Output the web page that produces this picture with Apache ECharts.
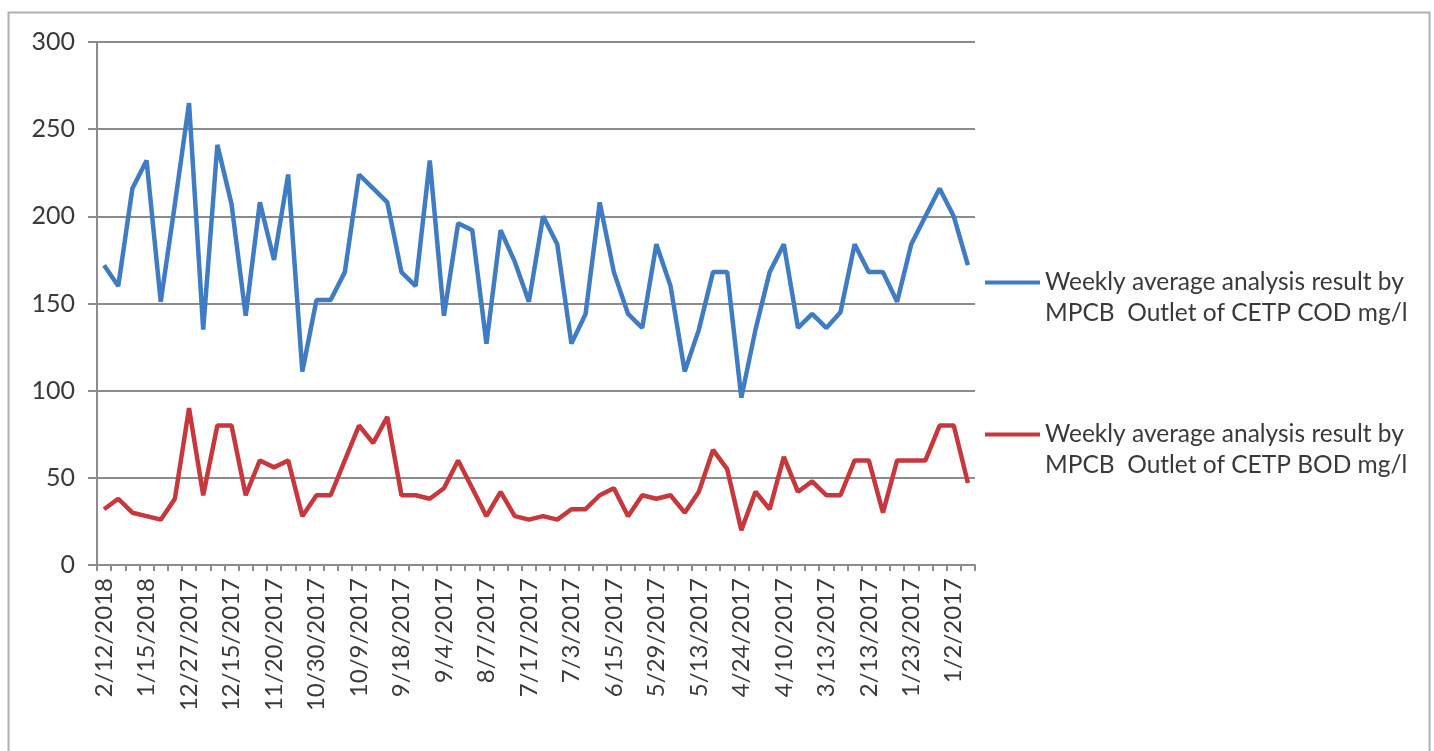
<!DOCTYPE html>
<html>
<head>
<meta charset="utf-8">
<script src="https://cdn.jsdelivr.net/npm/echarts@6/dist/echarts.min.js"></script>
<style>
html,body{margin:0;padding:0;background:#fff;}
#chart{width:1434px;height:751px;}
</style>
</head>
<body>
<div id="chart"></div>
<script>
// Tick labels shown on the x axis (every third category)
const tickLabels = ['2/12/2018','1/15/2018','12/27/2017','12/15/2017','11/20/2017','10/30/2017','10/9/2017','9/18/2017','9/4/2017','8/7/2017','7/17/2017','7/3/2017','6/15/2017','5/29/2017','5/13/2017','4/24/2017','4/10/2017','3/13/2017','2/13/2017','1/23/2017','1/2/2017'];

// Weekly COD values (mg/l)
const codValues = [172,160,216,232,151,207,265,135,241,207,143,208,175,224,111,152,152,168,224,216,208,168,160,232,143,196,192,127,192,174,151,200,184,127,144,208,168,144,136,184,160,111,135,168,168,96,135,168,184,136,144,136,145,184,168,168,151,184,200,216,200,172];

// Weekly BOD values (mg/l)
const bodValues = [32,38,30,28,26,38,90,40,80,80,40,60,56,60,28,40,40,60,80,70,85,40,40,38,44,60,44,28,42,28,26,28,26,32,32,40,44,28,40,38,40,30,42,66,55,20,42,32,62,42,48,40,40,60,60,30,60,60,60,80,80,47];

const seriesNames = [
  'Weekly average analysis result by\nMPCB  Outlet of CETP COD mg/l',
  'Weekly average analysis result by\nMPCB  Outlet of CETP BOD mg/l'
];

// category list: labelled every third week, others unlabeled
const categories = codValues.map((v, i) => (i % 3 === 0 ? tickLabels[i / 3] : ''));

const FONT = 'Lato';
const TXT = '#3a3a3a';
const chart = echarts.init(document.getElementById('chart'));
const legendText = { fontFamily: FONT, fontSize: 24.5, color: TXT, lineHeight: 31 };
// blank first line so that the icon sits beside the first text line
const legendFmt = name => ' \n' + name;
chart.setOption({
  animation: false,
  backgroundColor: '#fff',
  graphic: [{
    type: 'rect', left: 6, top: 10, silent: true,
    shape: { width: 1421, height: 760 },
    style: { fill: 'none', stroke: '#b0b0b0', lineWidth: 2 }
  }],
  grid: { left: 97, right: 459, top: 42, bottom: 186, containLabel: false },
  legend: [{
    data: [seriesNames[0]], orient: 'vertical', left: 985, top: 236, padding: 0,
    icon: 'rect', itemWidth: 55, itemHeight: 4, itemGap: 0, formatter: legendFmt,
    textStyle: legendText
  }, {
    data: [seriesNames[1]], orient: 'vertical', left: 985, top: 388, padding: 0,
    icon: 'rect', itemWidth: 55, itemHeight: 4, itemGap: 0, formatter: legendFmt,
    textStyle: legendText
  }],
  xAxis: {
    type: 'category', data: categories, boundaryGap: true,
    axisLine: { lineStyle: { color: '#8c8c8c', width: 2 } },
    axisTick: { show: true, interval: 0, length: 6, lineStyle: { color: '#8c8c8c', width: 2 } },
    axisLabel: { interval: 0, rotate: 90, margin: 13, fontFamily: FONT, fontSize: 24, color: TXT },
    splitLine: { show: false }
  },
  yAxis: {
    type: 'value', min: 0, max: 300, interval: 50,
    axisLine: { show: true, lineStyle: { color: '#8c8c8c', width: 2 } },
    axisTick: { show: true, length: 9, lineStyle: { color: '#8c8c8c', width: 2 } },
    axisLabel: { margin: 22, fontFamily: FONT, fontSize: 25, color: TXT },
    splitLine: { show: true, lineStyle: { color: '#8c8c8c', width: 2 } }
  },
  series: [{
    name: seriesNames[0], type: 'line', data: codValues, symbol: 'none',
    lineStyle: { color: '#3f7cc4', width: 4.5 }, itemStyle: { color: '#3f7cc4' }
  }, {
    name: seriesNames[1], type: 'line', data: bodValues, symbol: 'none',
    lineStyle: { color: '#c8373c', width: 4.5 }, itemStyle: { color: '#c8373c' }
  }]
});
</script>
</body>
</html>
